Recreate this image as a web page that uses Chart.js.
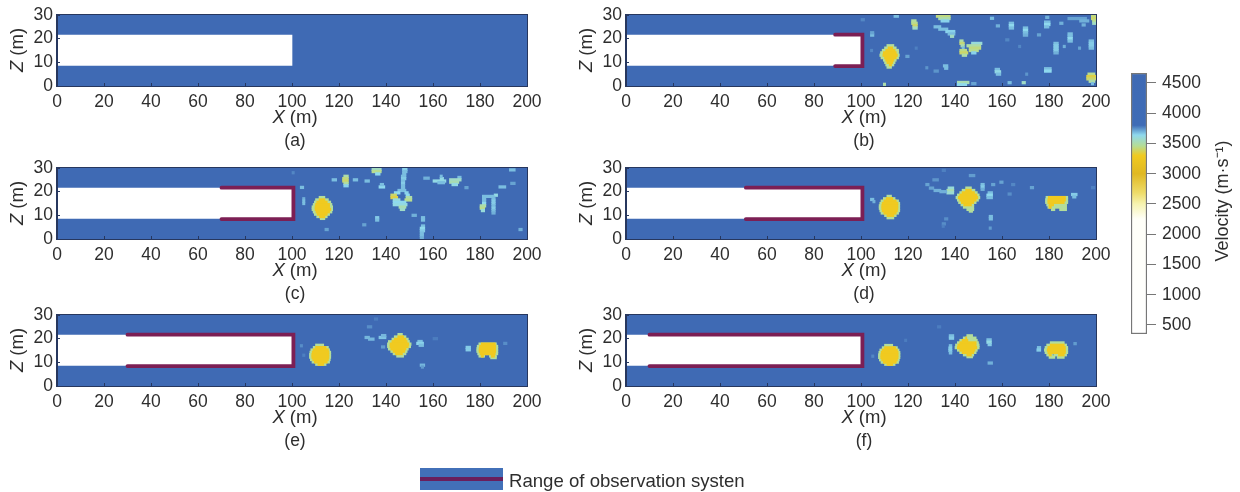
<!DOCTYPE html>
<html>
<head>
<meta charset="utf-8">
<title>Velocity models</title>
<script src="https://cdn.jsdelivr.net/npm/chart.js@4"></script>
<style>
  html, body { margin: 0; background: #fff; }
  body { position: relative; width: 1240px; height: 492px; overflow: hidden; }
  canvas { position: absolute; filter: blur(0.45px); }
  #key { position: absolute; left: 420px; top: 468px; width: 83px; height: 22px; background: #4270b8; filter: blur(0.45px); }
  #key i { position: absolute; left: 0; right: 0; top: 9px; height: 4px; background: #6a1f5c; }
  #keyText { position: absolute; left: 509px; top: 470px; font: 18.6px "Liberation Sans", sans-serif; color: #2e2e2e; filter: blur(0.3px); }
</style>
</head>
<body>
<canvas id="a" width="560" height="152" style="left:0;top:0"></canvas>
<canvas id="b" width="560" height="152" style="left:569px;top:0"></canvas>
<canvas id="c" width="560" height="152" style="left:0;top:153px"></canvas>
<canvas id="d" width="560" height="152" style="left:569px;top:153px"></canvas>
<canvas id="e" width="560" height="152" style="left:0;top:300px"></canvas>
<canvas id="f" width="560" height="152" style="left:569px;top:300px"></canvas>
<canvas id="bar" width="140" height="290" style="left:1100px;top:60px"></canvas>
<div id="key"><i></i></div>
<div id="keyText">Range of observation systen</div>
<script>
const xTicks = [0, 20, 40, 60, 80, 100, 120, 140, 160, 180, 200];
const zTicks = [0, 10, 20, 30];
const velocityTicks = [500, 1000, 1500, 2000, 2500, 3000, 3500, 4000, 4500];

// colour bar
const velocityStops = [350, 2250, 2500, 2680, 3000, 3300, 3460, 3640, 3800, 4665];
const velocityColors = ['#ffffff', '#fffff8', '#f6f3b0', '#eedc6a', '#e0b822', '#f0ca20', '#b5dd96', '#8fd9ee', '#3f6cb6', '#3f6ab4'];

const rockX = [0, 200];
const tunnelX = [0, 100];
const tunnelZ = [8.7, 21.5];
const obsStart = { b: 89, c: 70, d: 51, e: 30, f: 10 };
const obsZ = [8.4, 21.7];
const obsEnd = 100.6;

const rimVelocity = 3470;
const coreVelocity = 3300;

// blobs: [z, rim x0, rim x1, core x0, core x1]
const blobsA = [];
const blobsB = [
  [17, 111, 114], [16, 110, 115, 111.5, 113.5], [15, 109, 116, 110.5, 114.5], [14, 108.3, 116, 109.5, 115],
  [13, 108, 116.3, 109.3, 115.5], [12, 108.5, 116, 110, 115], [11, 109.5, 115, 110.5, 114], [10, 110, 114.5, 111, 113.5],
  [9, 110.5, 114, 112, 113], [8, 111, 113]
];
const blobsC = [
  [17.5, 111.5, 114], [16.5, 110, 115.5, 111.5, 114], [15.5, 109.5, 116.5, 110.5, 115], [14.5, 109, 117, 110, 116],
  [13.5, 108.5, 117.3, 109.8, 116], [12.5, 108.5, 117.3, 109.8, 116.5], [11.5, 109, 117, 110.2, 116], [10.5, 109.5, 116, 110.7, 115],
  [9.5, 110.5, 115, 111.7, 114], [8.7, 112, 114]
];
const blobsD = [
  [18, 111, 113], [17, 109.5, 114.5, 110.7, 113.5], [16, 108.5, 116, 109.7, 115], [15, 108, 116.5, 109, 115.7],
  [14, 107.7, 116.5, 108.8, 115.7], [13, 107.7, 116.5, 108.8, 115.7], [12, 108, 116.5, 109, 115.5], [11, 108.5, 116, 109.7, 115],
  [10, 110, 115, 111, 114], [9, 111, 114],
  [21.5, 144.5, 147], [20.5, 143, 148.5, 144.5, 147], [19.5, 142, 149.5, 143, 148.3], [18.5, 141, 150.3, 142, 149.3],
  [17.5, 140.4, 150.6, 141.4, 149.7], [16.5, 141, 150, 142, 149], [15.5, 141.5, 149, 142.7, 148], [14.5, 142.5, 148, 143.7, 147],
  [13.5, 143.5, 148], [12.5, 145, 148], [11.8, 146, 147.5],
  [17.5, 178.7, 188, 179.7, 187], [16.5, 178.5, 188, 179.5, 187], [15.5, 178.5, 188, 179.5, 186.5], [14.5, 179, 187.5, 180, 182],
  [13.5, 179.5, 187.5, 180, 181], [12.5, 181, 182.5], [12.5, 184.5, 187.5]
];
const blobsE = [
  [17.2, 110, 113.5], [16.2, 109, 115.5, 110, 114.5], [15.2, 108, 116, 109, 115.5], [14.2, 107.6, 116.5, 108.6, 115.7],
  [13.2, 107.4, 116.5, 108.4, 115.7], [12.2, 107.4, 116.5, 108.4, 115.7], [11.2, 107.8, 116.3, 108.8, 115.5], [10.2, 108.5, 116, 109.5, 115],
  [9.2, 110, 114.5, 111, 113.5],
  [21.7, 145, 147], [20.7, 143.5, 148.5, 145, 147.5], [19.7, 142.5, 149.5, 143.5, 148.5], [18.7, 141, 150, 142.5, 149],
  [17.7, 140.6, 150.7, 141.7, 149.7], [16.7, 140.6, 150.5, 141.7, 149.5], [15.7, 141, 149.5, 142, 148.5], [14.7, 142, 149, 143, 148],
  [13.7, 143, 148.5, 144, 147], [12.7, 144.5, 147.5],
  [17.7, 179.5, 187, 180.5, 186.5], [16.7, 178.8, 187.6, 179.8, 186.7], [15.7, 178.6, 187.6, 179.6, 186.7], [14.7, 178.6, 187.6, 179.6, 186.7],
  [13.7, 179, 187.6, 180, 186.5], [12.7, 179.5, 182, 180.5, 181.5], [12.7, 184, 187, 184.8, 186.2], [12, 184.5, 187]
];
const blobsF = [
  [17.1, 110, 113.5], [16.1, 109, 115.5, 110, 114.7], [15.1, 108, 116.2, 109, 115.5], [14.1, 107.6, 116.6, 108.6, 115.8],
  [13.1, 107.4, 116.6, 108.4, 115.8], [12.1, 107.4, 116.6, 108.4, 115.8], [11.1, 107.8, 116.3, 108.8, 115.5], [10.1, 108.5, 116, 109.5, 115],
  [9.2, 110, 114.5, 111, 113.5],
  [21.2, 145, 147.5], [20.2, 143.5, 149, 144.5, 145], [19.2, 142, 149.5, 143, 145.5], [18.2, 141, 150, 142, 149],
  [17.2, 140.2, 150.3, 141.2, 149], [16.2, 140, 150.3, 141, 149.3], [15.2, 141, 149.5, 142, 148.5], [14.2, 142, 149, 143, 148],
  [13.2, 143.5, 148, 145, 147], [12.4, 145, 147.5],
  [18.2, 180.5, 186.5], [17.2, 179, 187.5, 180.5, 186.5], [16.2, 178.3, 188, 179.5, 187], [15.2, 178, 188, 179.2, 187],
  [14.2, 178.3, 188, 179.5, 187], [13.2, 179, 181.5, 180, 181], [13.2, 182, 187.5, 184, 186.5], [12.2, 180, 182.5], [12.2, 183.5, 186.5]
];

// small patches: [z, x0, x1, velocity]
const patchesA = [];
const patchesB = [
  [21.5, 104, 105.5, 3680], [22.5, 104, 105.5, 3720], [28, 100, 101.5, 3760], [15, 104, 105, 3760], [16, 123, 124, 3770],
  [27.5, 121.5, 123.5, 3480], [26.5, 121.5, 124, 3450], [25.5, 122, 124, 3400], [24.5, 122, 124, 3550], [29.5, 114, 116, 3680],
  [29.5, 132, 138, 3430], [28.5, 133, 138, 3500], [27.5, 134, 137.5, 3650],
  [25, 131, 134, 3680], [24, 133, 137, 3680], [23, 136, 140, 3650], [22, 137, 140, 3680], [21, 138, 139.5, 3550],
  [19, 142, 143.5, 3500], [18, 142, 144, 3420], [17, 142.5, 144, 3500], [16, 143, 144, 3680],
  [15, 142, 145, 3440], [14, 142, 145.5, 3400], [13, 143, 145, 3500],
  [18, 147, 151.5, 3600], [17, 145, 151, 3500], [16, 146, 151, 3430], [15, 146, 150, 3450], [14, 147, 149, 3650],
  [12.5, 119, 120.5, 3720], [8.5, 135, 137, 3680], [7.5, 135.5, 137, 3680], [6.3, 131, 133, 3740], [7.7, 127.5, 128.5, 3740],
  [1.5, 141, 146, 3520], [0.5, 141, 145, 3640], [1, 147, 149, 3720], [0.7, 109.5, 110.5, 3500],
  [7, 157, 159, 3680], [6, 157, 159.5, 3620], [5, 157.5, 159.5, 3680], [7.3, 178, 181, 3680], [6.3, 178, 181, 3640],
  [5, 170, 171, 3740], [5, 196.5, 199.5, 3450], [4, 196, 200, 3350], [3, 196, 200, 3400], [2, 197, 199.5, 3500], [1, 198, 199, 3680],
  [29.5, 198, 200, 3430], [28.5, 198, 200, 3400], [27.5, 198.5, 200, 3450], [26.5, 198.5, 200, 3550],
  [29, 178.5, 180, 3700], [27, 178, 180.5, 3680], [26, 178, 180.5, 3640], [25, 178, 180, 3680],
  [26.5, 163, 165, 3680], [25.5, 163, 165, 3640], [24.5, 163, 165, 3680], [25.4, 157.5, 159, 3700], [28.6, 155, 156.5, 3680],
  [24.5, 169, 171, 3680], [23.5, 169, 171, 3640], [22.5, 169, 171, 3680], [21.5, 169, 171, 3700], [21.6, 175, 176.5, 3720],
  [22, 188, 190, 3680], [21, 188, 190, 3680], [20, 188, 190, 3640], [19, 188, 190, 3680],
  [18, 182, 184, 3680], [17, 182, 184, 3660], [16, 182, 184, 3660], [15, 182, 184, 3660], [14, 182, 184, 3700],
  [19, 197, 199, 3680], [18, 197, 199, 3660], [17, 197, 199, 3660], [16, 197, 199, 3680],
  [28.5, 188, 196, 3720], [27.5, 193, 197, 3700], [26.5, 184.5, 186, 3700], [25.8, 194, 195.5, 3700],
  [19.5, 161.5, 163, 3760], [16.7, 167, 168, 3760], [16.7, 186, 187, 3700], [16, 192.5, 193.5, 3720], [1.4, 162.5, 164, 3680], [1.4, 168.5, 170, 3560]
];
const patchesC = [
  [26.5, 122, 124, 3500], [25.5, 121.5, 124, 3430], [24.5, 121.5, 124, 3400], [23.5, 122, 124, 3480], [22.5, 122, 124, 3650],
  [25, 117, 119, 3680], [25, 126, 128, 3680], [24.5, 131, 133, 3680], [29.5, 134, 138, 3550], [28.5, 134, 138, 3450], [27.5, 135.5, 137.5, 3640],
  [21.8, 103.5, 105, 3680], [17, 104.5, 105.5, 3700], [16, 104.5, 105.5, 3680], [15, 104.5, 105.5, 3680], [28, 100, 101, 3760],
  [29.5, 147, 149, 3650], [28.5, 147, 149, 3680], [27.5, 147, 148.5, 3680], [26.5, 146.5, 148.5, 3680], [25.5, 146.5, 148.5, 3660],
  [24.5, 146.5, 148, 3680], [23.5, 146.5, 148, 3660], [22.5, 146.5, 148, 3680], [21.5, 146.5, 148, 3680], [20.5, 145, 148.5, 3680],
  [19.5, 143.5, 146, 3640], [19.5, 148, 149.5, 3650], [18.5, 142, 144.5, 3400], [17.5, 142, 145, 3350], [18.5, 148.5, 150, 3640],
  [17.5, 148.5, 151, 3500], [16.5, 148, 151, 3450], [16.5, 143, 146, 3600], [15.5, 143, 148.5, 3640], [14.5, 143, 149, 3620],
  [13.5, 145.5, 148.5, 3520], [12.5, 146, 148, 3560], [22, 137, 139.5, 3640], [23, 137.5, 139, 3680],
  [9, 135.5, 137, 3660], [8, 135.5, 137, 3680], [6, 130, 131.5, 3720], [10, 151, 153, 3700], [9, 155, 156.5, 3680], [8, 155, 156.5, 3680],
  [5.5, 155, 156.5, 3680], [4.5, 154.5, 156.5, 3640], [3.5, 154.5, 156.5, 3660], [2.5, 154.5, 156, 3680], [1.5, 154.5, 156, 3680], [0.5, 154.5, 156, 3700],
  [25.5, 163, 164.5, 3620], [26.5, 163, 164, 3680], [24.5, 160, 165.5, 3620], [23.8, 162, 165, 3680], [25.7, 156, 158.5, 3700],
  [26, 170.5, 172, 3680], [25, 167, 172, 3560], [24, 167, 171, 3520], [23, 168, 170.5, 3620],
  [18.5, 186, 187.5, 3620], [18, 181, 186, 3680], [17, 181, 182.5, 3680], [16, 181, 182.5, 3680], [15, 181, 182.5, 3640],
  [14, 180, 182.5, 3500], [13, 180, 182, 3450], [12, 180.5, 182, 3600], [17, 185, 186.5, 3680], [16, 185, 186.5, 3660], [15, 185, 186.5, 3660],
  [14, 185, 186.5, 3680], [13, 185, 186.5, 3660], [12, 185, 186.5, 3680], [11, 185, 186.5, 3700],
  [21.7, 173.5, 175, 3720], [22, 188, 191, 3680], [23.5, 193, 195, 3720], [29.2, 192.5, 195, 3680], [4, 196.5, 198, 3700], [4, 114, 115.5, 3720]
];
const patchesD = [
  [16.7, 104, 105.5, 3680], [15.8, 105, 106, 3700],
  [21.5, 137, 139.5, 3600], [20.5, 136.5, 139.5, 3520], [19.5, 136.5, 139.5, 3580],
  [23, 127.5, 129, 3720], [21.5, 129, 131, 3720], [20.5, 131, 134, 3700], [20, 133.5, 136.5, 3700], [25, 130.5, 133, 3740], [29, 134.5, 136, 3770],
  [26.8, 146, 148.5, 3730], [23, 151, 152.5, 3680], [22, 151, 152.5, 3660], [21, 151, 152.5, 3700], [23, 155.5, 157, 3720], [24, 159, 160.5, 3720],
  [23, 164, 165.5, 3760], [19.5, 154, 156, 3680], [18.5, 153.5, 156, 3640], [17.5, 153.5, 156, 3680], [19, 162.5, 164, 3750],
  [21.7, 172, 173.5, 3720], [18.8, 189.5, 192, 3660], [17.8, 190, 191.5, 3680], [21.7, 198, 199.5, 3770],
  [9.5, 154.5, 156, 3680], [8.5, 154.5, 156, 3680], [4.6, 154.5, 155.5, 3730], [8.5, 135.5, 137, 3750], [6.4, 134.5, 136, 3750], [5.4, 134.5, 135.5, 3770]
];
const patchesE = [
  [25, 132, 134, 3750], [28.3, 135, 136.5, 3775], [20.5, 131, 133, 3690], [19.8, 132.5, 135, 3690], [20.5, 137, 140, 3670], [21.3, 138, 140, 3690],
  [16.5, 138, 139.5, 3730], [18.8, 153.5, 155.5, 3680], [18, 153, 156, 3650], [17.2, 154, 156, 3680], [8.8, 154.5, 156.5, 3690], [8, 155, 156, 3730],
  [20, 160, 162, 3775], [16.3, 174, 176, 3660], [15.3, 174, 176, 3660], [18, 190, 191.5, 3750], [17, 103.5, 104.5, 3750], [13, 104.5, 105.5, 3770]
];
const patchesF = [
  [21.2, 137.5, 139.5, 3680], [20.2, 137.5, 139.5, 3660], [17, 137.5, 138.7, 3680], [16, 137.3, 138.7, 3660], [15, 137.3, 138.7, 3660], [14, 137.5, 138.7, 3680],
  [19.5, 153.5, 155.5, 3680], [18.5, 153.5, 155.5, 3620], [17.5, 154, 155.5, 3660], [9.7, 154, 156, 3700], [16.2, 175, 176.5, 3680], [15.2, 174.8, 176.5, 3660],
  [17.9, 190.5, 191.7, 3730], [25, 132.5, 134, 3775], [12.6, 104.5, 105.5, 3760], [19.3, 118.5, 119.5, 3775]
];

Chart.defaults.font.family = '"Liberation Sans", Arial, sans-serif';
Chart.defaults.font.size = 17.5;
Chart.defaults.color = '#2e2e2e';
Chart.defaults.animation = false;
Chart.defaults.plugins.legend.display = false;
Chart.defaults.plugins.tooltip.enabled = false;

const ink = '#2e2e2e';
const frame = '#27375e';

function velocityColor(v) {
  let i = 1;
  while (i < velocityStops.length - 1 && velocityStops[i] < v) i++;
  const t = (v - velocityStops[i - 1]) / (velocityStops[i] - velocityStops[i - 1]);
  const a = velocityColors[i - 1], b = velocityColors[i];
  const part = k => {
    const p = parseInt(a.substr(k, 2), 16), q = parseInt(b.substr(k, 2), 16);
    return Math.round(p + (q - p) * t);
  };
  return 'rgb(' + part(1) + ',' + part(3) + ',' + part(5) + ')';
}

function rowsToBars(blobs, patches) {
  const bars = [], colors = [];
  blobs.forEach(r => {
    bars.push({ x: [r[1], r[2]], y: r[0] });
    colors.push(velocityColor(rimVelocity));
  });
  blobs.forEach(r => {
    if (r.length > 3) {
      bars.push({ x: [r[3], r[4]], y: r[0] });
      colors.push(velocityColor(coreVelocity));
    }
  });
  patches.forEach(r => {
    bars.push({ x: [r[1], r[2]], y: r[0] });
    colors.push(velocityColor(r[3]));
  });
  return { bars, colors };
}

// stop the labels from pushing the plot area around
function fixAxis(s, prop, size) {
  s[prop] = size;
  s.paddingTop = s.paddingBottom = s.paddingLeft = s.paddingRight = 0;
}

// axis titles have an italic letter, so they are drawn by hand
function panelText(letter) {
  return {
    id: 'panelText',
    afterDraw(chart) {
      const c = chart.ctx;
      c.save();
      c.fillStyle = ink;
      c.textBaseline = 'middle';
      const cx = 295;
      const ital = 'italic 18.5px "Liberation Sans"', plain = '18.5px "Liberation Sans"';
      c.font = ital;
      const xw = c.measureText('X').width, zw = c.measureText('Z').width;
      c.font = plain;
      const rest = c.measureText(' (m)').width;
      const left = cx - (xw + rest) / 2;
      c.textAlign = 'left';
      c.font = ital;
      c.fillText('X', left, 118);
      c.font = plain;
      c.fillText(' (m)', left + xw, 118);
      c.font = '17.5px "Liberation Sans"';
      c.textAlign = 'center';
      c.fillText('(' + letter + ')', cx, 141);
      c.translate(18, 50);
      c.rotate(-Math.PI / 2);
      c.textAlign = 'left';
      c.font = ital;
      c.fillText('Z', -(zw + rest) / 2, 0);
      c.font = plain;
      c.fillText(' (m)', -(zw + rest) / 2 + zw, 0);
      c.restore();
      const a = chart.chartArea;
      c.save();
      c.strokeStyle = frame;
      c.lineWidth = 1;
      c.strokeRect(a.left - 0.5, a.top - 0.5, a.right - a.left + 1, a.bottom - a.top + 1);
      c.restore();
    }
  };
}

function drawPanel(letter, blobs, patches) {
  const rows = rowsToBars(blobs, patches);
  const datasets = [];
  if (obsStart[letter] !== undefined) {
    datasets.push({
      type: 'scatter', showLine: true, pointRadius: 0,
      data: [
        { x: obsStart[letter], y: obsZ[1] }, { x: obsEnd, y: obsZ[1] },
        { x: obsEnd, y: obsZ[0] }, { x: obsStart[letter], y: obsZ[0] }
      ],
      borderColor: '#7c1f54', borderWidth: 3.8, borderCapStyle: 'round', borderJoinStyle: 'miter'
    });
  }
  datasets.push({
    type: 'bar', indexAxis: 'y', grouped: false, data: rows.bars,
    backgroundColor: rows.colors, barThickness: 2.6
  });
  datasets.push({
    type: 'bar', indexAxis: 'y', grouped: false,
    data: [{ x: tunnelX, y: (tunnelZ[0] + tunnelZ[1]) / 2 }],
    backgroundColor: '#ffffff', barThickness: (tunnelZ[1] - tunnelZ[0]) * 71 / 30
  });
  datasets.push({
    type: 'bar', indexAxis: 'y', grouped: false,
    data: [{ x: rockX, y: 15 }],
    backgroundColor: '#3f6ab4', barThickness: 71
  });
  new Chart(document.getElementById(letter), {
    type: 'scatter',
    data: { datasets },
    plugins: [panelText(letter)],
    options: {
      responsive: false,
      layout: { padding: { top: 15, right: 33, left: 0, bottom: 0 } },
      scales: {
        x: {
          type: 'linear', min: 0, max: 200, offset: false,
          afterBuildTicks: s => { s.ticks = xTicks.map(value => ({ value })); },
          afterFit: s => fixAxis(s, 'height', 66),
          grid: { drawOnChartArea: false, tickLength: -3, color: frame, z: 1, offset: false },
          border: { color: frame, z: 1 },
          ticks: { padding: 9, autoSkip: false, maxRotation: 0, color: ink }
        },
        y: {
          type: 'linear', min: 0, max: 30, offset: false,
          afterBuildTicks: s => { s.ticks = zTicks.map(value => ({ value })); },
          afterFit: s => fixAxis(s, 'width', 57),
          grid: { drawOnChartArea: false, tickLength: -3, color: frame, z: 1, offset: false },
          border: { color: frame, z: 1 },
          ticks: { padding: 7, autoSkip: false, color: ink }
        }
      }
    }
  });
}

drawPanel('a', blobsA, patchesA);
drawPanel('b', blobsB, patchesB);
drawPanel('c', blobsC, patchesC);
drawPanel('d', blobsD, patchesD);
drawPanel('e', blobsE, patchesE);
drawPanel('f', blobsF, patchesF);

const velocityTitle = {
  id: 'velocityTitle',
  afterDraw(chart) {
    const c = chart.ctx;
    c.save();
    c.fillStyle = ink;
    c.font = '18px "Liberation Sans"';
    c.textAlign = 'center';
    c.textBaseline = 'middle';
    c.translate(123, 141);
    c.rotate(-Math.PI / 2);
    c.fillText('Velocity (m·s⁻¹)', 0, 0);
    c.restore();
  }
};

new Chart(document.getElementById('bar'), {
  type: 'bar',
  data: {
    labels: ['velocity'],
    datasets: [{
      data: [[velocityStops[0], velocityStops[velocityStops.length - 1]]],
      barPercentage: 1, categoryPercentage: 1,
      borderColor: '#777777', borderWidth: 1.5, borderSkipped: false,
      backgroundColor: c => {
        const chart = c.chart;
        if (!chart.chartArea) return '#ffffff';
        const y = chart.scales.y;
        const lo = velocityStops[0], hi = velocityStops[velocityStops.length - 1];
        const g = chart.ctx.createLinearGradient(0, y.getPixelForValue(lo), 0, y.getPixelForValue(hi));
        velocityStops.forEach((v, i) => g.addColorStop((v - lo) / (hi - lo), velocityColors[i]));
        return g;
      }
    }]
  },
  plugins: [velocityTitle],
  options: {
    responsive: false,
    layout: { padding: { top: 13, bottom: 16, left: 31, right: 0 } },
    scales: {
      x: { display: false },
      y: {
        position: 'right', min: velocityStops[0], max: velocityStops[velocityStops.length - 1],
        afterBuildTicks: s => { s.ticks = velocityTicks.map(value => ({ value })); },
        afterFit: s => fixAxis(s, 'width', 93),
        grid: { drawOnChartArea: false, tickLength: 9, color: '#777777' },
        border: { display: false },
        ticks: { padding: 6, autoSkip: false, color: ink, font: { size: 17.5 }, callback: v => String(v) }
      }
    }
  }
});
</script>
</body>
</html>
